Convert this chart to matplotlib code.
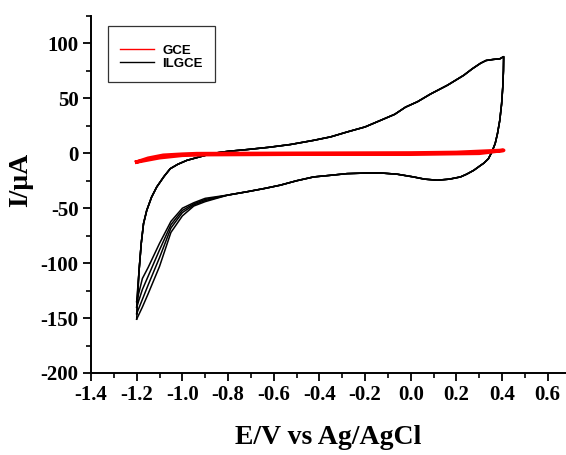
import matplotlib
matplotlib.use("Agg")
import matplotlib.pyplot as plt
from matplotlib.ticker import MultipleLocator

plt.rcParams["axes.unicode_minus"] = False

# ILGCE, anodic (forward) sweep shared by all cycles after the start point
fwd_v = [-1.19, -1.18, -1.17, -1.156, -1.135, -1.112, -1.08, -1.053, -1.02, -0.98,
         -0.92, -0.865, -0.8, -0.717, -0.62, -0.527, -0.425, -0.35, -0.279, -0.2,
         -0.132, -0.07, -0.023, 0.03, 0.087, 0.161, 0.232, 0.27, 0.306, 0.33,
         0.363, 0.39, 0.407]
fwd_i = [-108, -82, -64, -52, -40, -30.6, -21, -14, -10, -6.4,
         -3, 0, 1.8, 3.4, 5.5, 8, 11.8, 15, 19.4, 24,
         30, 35.5, 42, 47, 54, 62, 71, 77, 82, 84.5,
         85.5, 86, 88]

# ILGCE, cathodic (return) sweep down to -0.8 V
ret_v = [0.407, 0.406, 0.403, 0.398, 0.39, 0.38, 0.37, 0.355, 0.34, 0.32,
         0.306, 0.276, 0.245, 0.218, 0.17, 0.116, 0.06, 0.012, -0.06, -0.132,
         -0.2, -0.279, -0.35, -0.425, -0.5, -0.571, -0.64, -0.717, -0.8]
ret_i = [88, 75, 60, 45, 30, 18, 9, 1, -5, -9,
         -11, -15.5, -19, -21.5, -23.5, -24.5, -23.5, -21.5, -19, -17.9,
         -18, -18.5, -20, -21.5, -25, -29, -32, -35, -38]

# cycle-dependent tails of the cathodic sweep
tail_v = [-0.9, -0.95, -1.0, -1.05, -1.1, -1.15, -1.175, -1.2]
tail_c1 = [-44, -48, -57, -72, -103, -128, -140, -151]
tail_c2 = [-43, -47, -54, -68, -95, -120, -133, -146]
tail_c3 = [-42, -46, -52, -65, -88, -112, -124, -140]
tail_c4 = [-41, -45, -50, -62, -82, -104, -114, -135]
tails = [tail_c1, tail_c2, tail_c3, tail_c4]

# GCE
gce_v = [-1.2, -1.15, -1.084, -1.0, -0.937, -0.5, 0.0, 0.2, 0.407,
         0.3, 0.0, -0.5, -0.9, -1.0, -1.1, -1.2]
gce_i = [-7.9, -4.5, -1.8, -0.8, -0.3, 0, 0.3, 0.8, 2.7,
         0, -0.8, -0.8, -1.2, -1.8, -4, -7.9]

serif = "Liberation Serif"

fig = plt.figure(figsize=(5.66, 4.55), dpi=100)
ax = fig.add_axes([91 / 566, 1 - 373 / 455, 475 / 566, 357 / 455])

start = tails[-1][-1]
for k, tail in enumerate(tails):
    v = [-1.2] + fwd_v + ret_v + tail_v
    i = [start] + fwd_i + ret_i + tail
    ax.plot(v, i, color="black", lw=1.1,
            label="ILGCE" if k == 0 else None)
    start = tail[-1]

ax.plot(gce_v, gce_i, color="red", lw=2.6, label="GCE")

ax.set_xlim(-1.4, 0.68)
ax.set_ylim(-200, 125)
ax.xaxis.set_minor_locator(MultipleLocator(0.1))
ax.yaxis.set_major_locator(MultipleLocator(50))
ax.yaxis.set_minor_locator(MultipleLocator(25))
ax.set_xticks([-1.4, -1.2, -1.0, -0.8, -0.6, -0.4, -0.2, 0.0, 0.2, 0.4, 0.6])
ax.set_xticklabels(["-1.4", "-1.2", "-1.0", "-0.8", "-0.6", "-0.4", "-0.2",
                    "0.0", "0.2", "0.4", "0.6"])

for s in ["top", "right"]:
    ax.spines[s].set_visible(False)
for s in ["left", "bottom"]:
    ax.spines[s].set_linewidth(1.4)

ax.tick_params(which="major", direction="out", length=6, width=1.3, pad=3)
ax.tick_params(which="minor", direction="out", length=3.5, width=1.2)
for lab in ax.get_xticklabels() + ax.get_yticklabels():
    lab.set_fontfamily(serif)
    lab.set_fontweight("bold")
    lab.set_fontsize(15)

ax.set_xlabel("E/V vs Ag/AgCl", fontfamily=serif, fontweight="bold", fontsize=20)
ax.set_ylabel("I/μA", fontfamily=serif, fontweight="bold", fontsize=20)
ax.xaxis.set_label_coords(0.5, -0.145)
ax.yaxis.set_label_coords(-0.122, 0.54)

handles, labels = ax.get_legend_handles_labels()
order = [labels.index("GCE"), labels.index("ILGCE")]
leg = ax.legend([handles[j] for j in order], [labels[j] for j in order],
                loc="upper left", bbox_to_anchor=(0.036, 0.972),
                prop={"family": "Liberation Sans", "weight": "bold", "size": 9.5},
                frameon=True, fancybox=False, edgecolor="black",
                handlelength=2.6, handletextpad=0.6, labelspacing=0.05,
                borderpad=0.9, borderaxespad=0, title=" ", title_fontsize=5)
leg.get_frame().set_linewidth(0.9)
for ln in leg.get_lines():
    ln.set_linewidth(1.0)

fig.savefig("out.png", dpi=100)
